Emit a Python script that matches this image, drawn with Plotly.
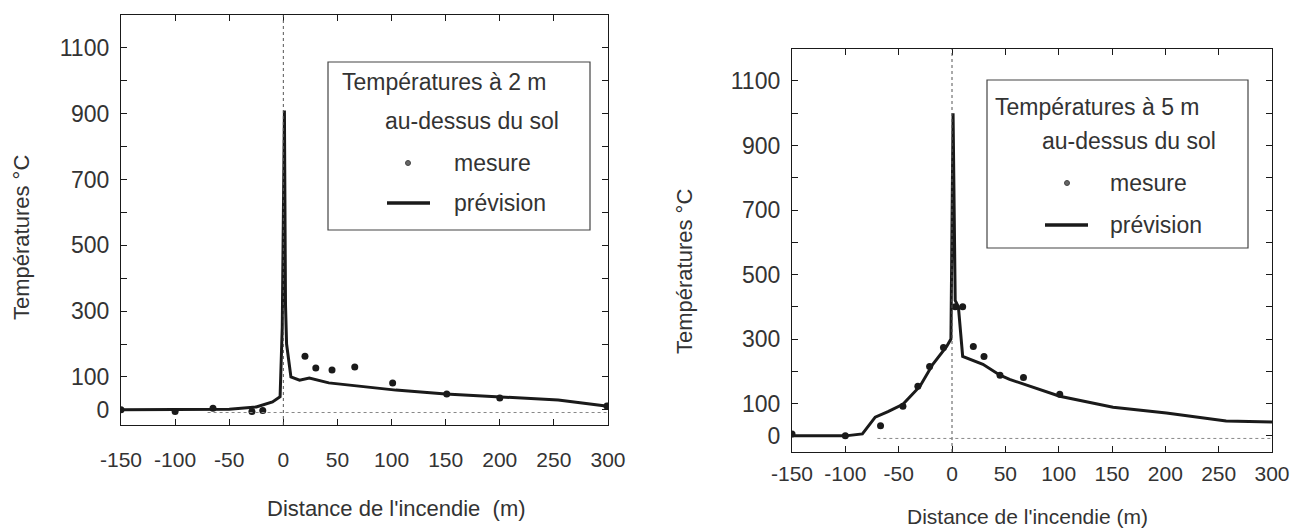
import plotly.graph_objects as go

# ---------------- data ----------------
# 2 m above ground
pred2_x = [-150, -100, -50, -25, -10, -3, -1, 1, 2, 3, 7, 15, 24, 42, 70, 104, 150, 200, 254, 298, 300]
pred2_y = [0, 0, 2, 9, 24, 40, 250, 910, 320, 200, 100, 90, 97, 82, 72, 60, 48, 40, 30, 12, 10]
meas2_x = [-150, -100, -65, -29, -19, 20, 30, 45, 66, 101, 151, 200, 299]
meas2_y = [0, -5, 5, -5, -2, 163, 127, 121, 130, 82, 48, 36, 12]

# 5 m above ground
pred5_x = [-150, -100, -84, -72, -60, -46, -30, -18, -5, -1, 1, 3, 6, 10, 29, 45, 54, 101, 151, 201, 257, 300]
pred5_y = [0, 0, 6, 58, 75, 98, 154, 222, 277, 300, 1000, 420, 400, 246, 222, 188, 175, 123, 89, 71, 46, 43]
meas5_x = [-150, -100, -67, -46, -32, -21, -8, 3, 10, 20, 30, 45, 67, 101]
meas5_y = [6, 0, 31, 92, 154, 215, 274, 400, 400, 277, 246, 188, 181, 129]

x_ticks = [-150, -100, -50, 0, 50, 100, 150, 200, 250, 300]
x_labels = ["-150", "-100", "-50", "0", "50", "100", "150", "200", "250", "300"]
y_ticks = [0, 100, 200, 300, 400, 500, 600, 700, 800, 900, 1000, 1100]
y_labels = ["0", "100", "", "300", "", "500", "", "700", "", "900", "", "1100"]

legend_title_2 = "Températures à 2 m"
legend_title_5 = "Températures à 5 m"
legend_sub = "au-dessus du sol"
name_meas = "mesure"
name_pred = "prévision"
y_title = "Températures °C"
x_title = "Distance de l'incendie  (m)"
x_title_r = "Distance de l'incendie (m)"

# ---------------- figure ----------------
W, H = 1313, 528
INK = "#1a1a1a"
TXT = "#333333"
FONT = "Liberation Sans, Arial, sans-serif"

fig = go.Figure()

fig.add_trace(go.Scatter(x=pred2_x, y=pred2_y, mode="lines", name=name_pred,
                         line=dict(color=INK, width=3), xaxis="x", yaxis="y", showlegend=False))
fig.add_trace(go.Scatter(x=meas2_x, y=meas2_y, mode="markers", name=name_meas,
                         marker=dict(color=INK, size=7), xaxis="x", yaxis="y", showlegend=False))
fig.add_trace(go.Scatter(x=pred5_x, y=pred5_y, mode="lines", name=name_pred,
                         line=dict(color=INK, width=3), xaxis="x2", yaxis="y2", showlegend=False))
fig.add_trace(go.Scatter(x=meas5_x, y=meas5_y, mode="markers", name=name_meas,
                         marker=dict(color=INK, size=7), xaxis="x2", yaxis="y2", showlegend=False))


def px(x):
    return x / W


def py(y):
    return 1 - y / H


axis_common = dict(showline=True, linecolor=INK, linewidth=1.3, mirror="ticks",
                   ticks="inside", ticklen=6, tickwidth=1.2, tickcolor=INK,
                   showgrid=False, zeroline=False, automargin=False)
yfont = dict(family=FONT, size=23, color=TXT)
xfont = dict(family=FONT, size=21, color=TXT)

fig.update_layout(
    width=W, height=H,
    margin=dict(l=0, r=0, t=0, b=0),
    paper_bgcolor="white", plot_bgcolor="white",
    xaxis=dict(domain=[px(121), px(608)], range=[-150, 300], anchor="y",
               tickvals=x_ticks, ticktext=x_labels, ticklabelstandoff=16, tickfont=xfont, **axis_common),
    yaxis=dict(domain=[py(425), py(15)], range=[-46, 1200], anchor="x",
               tickvals=y_ticks, ticktext=y_labels, ticklabelstandoff=6, tickfont=yfont, **axis_common),
    xaxis2=dict(domain=[px(792), px(1272)], range=[-150, 300], anchor="y2",
                tickvals=x_ticks, ticktext=x_labels, ticklabelstandoff=3, tickfont=xfont, **axis_common),
    yaxis2=dict(domain=[py(452), py(49)], range=[-50, 1199], anchor="x2",
                tickvals=y_ticks, ticktext=y_labels, ticklabelstandoff=6, tickfont=yfont, **axis_common),
)

# dotted reference lines at distance 0 and just under 0 °C
for xr, yr in (("x", "y"), ("x2", "y2")):
    fig.add_shape(type="line", xref=xr, yref=f"{yr} domain", x0=0, x1=0, y0=0, y1=1,
                  line=dict(color="#555", width=1, dash="dot"))
    fig.add_shape(type="line", xref=xr, yref=yr, x0=-70, x1=300, y0=-8, y1=-8,
                  line=dict(color="#888", width=1, dash="dot"))

# axis titles
centered = dict(xref="paper", yref="paper", xanchor="center", yanchor="middle", showarrow=False)
fig.add_annotation(text=y_title, x=px(22), y=py(238), textangle=-90,
                   font=dict(family=FONT, size=22, color=TXT), **centered)
fig.add_annotation(text=y_title, x=px(684), y=py(272), textangle=-90,
                   font=dict(family=FONT, size=22, color=TXT), **centered)
fig.add_annotation(text=x_title, x=px(396), y=py(508),
                   font=dict(family=FONT, size=22, color=TXT), **centered)
fig.add_annotation(text=x_title_r, x=px(1027), y=py(516),
                   font=dict(family=FONT, size=21, color=TXT), **centered)

# legend boxes (drawn as shapes + text)
left = dict(xref="paper", yref="paper", xanchor="left", yanchor="middle", showarrow=False)
boxes = [
    dict(rect=(328, 62, 590, 230), title=legend_title_2, tpos=(340, 82), spos=(383, 121),
         mpos=(408, 163), lpos=(387, 430, 203), txtx=452),
    dict(rect=(987, 80, 1248, 248), title=legend_title_5, tpos=(993, 107), spos=(1040, 141),
         mpos=(1067, 183), lpos=(1045, 1088, 225), txtx=1108),
]
for b in boxes:
    x0, y0, x1, y1 = b["rect"]
    fig.add_shape(type="rect", xref="paper", yref="paper", x0=px(x0), x1=px(x1), y0=py(y1), y1=py(y0),
                  line=dict(color="#444", width=1.2), fillcolor="white", layer="below")
    fig.add_annotation(text=b["title"], x=px(b["tpos"][0]), y=py(b["tpos"][1]),
                       font=dict(family=FONT, size=23, color=TXT), **left)
    fig.add_annotation(text=legend_sub, x=px(b["spos"][0]), y=py(b["spos"][1]),
                       font=dict(family=FONT, size=23, color=TXT), **left)
    mx, my = b["mpos"]
    fig.add_shape(type="circle", xref="paper", yref="paper", x0=px(mx - 2.5), x1=px(mx + 2.5),
                  y0=py(my + 2.5), y1=py(my - 2.5), line=dict(color="#444", width=1), fillcolor="#666")
    fig.add_annotation(text=name_meas, x=px(b["txtx"]), y=py(my),
                       font=dict(family=FONT, size=23, color=TXT), **left)
    lx0, lx1, ly = b["lpos"]
    fig.add_shape(type="line", xref="paper", yref="paper", x0=px(lx0), x1=px(lx1), y0=py(ly), y1=py(ly),
                  line=dict(color=INK, width=3.5))
    fig.add_annotation(text=name_pred, x=px(b["txtx"]), y=py(ly),
                       font=dict(family=FONT, size=23, color=TXT), **left)

fig.write_html("out.html", config={"displayModeBar": False},
               post_script="document.body.style.margin='0';")
